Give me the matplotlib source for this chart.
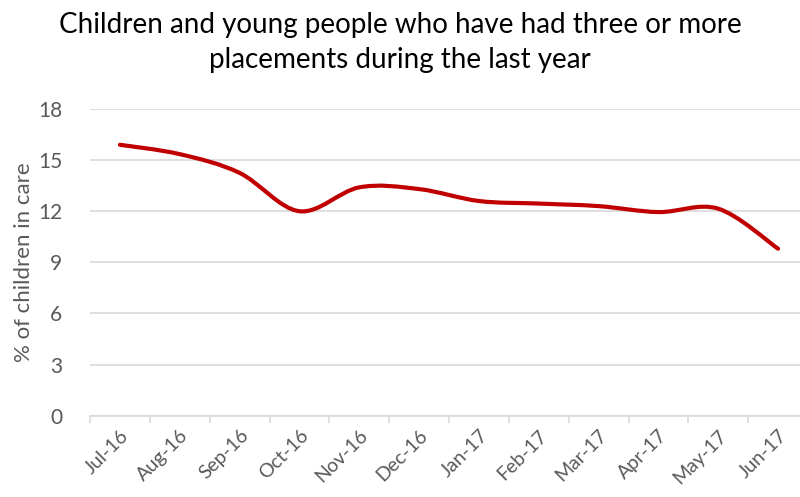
import matplotlib.pyplot as plt
from matplotlib.path import Path
from matplotlib.patches import PathPatch
import numpy as np

plt.rcParams['font.family'] = ['Lato', 'DejaVu Sans']

months = ['Jul-16', 'Aug-16', 'Sep-16', 'Oct-16', 'Nov-16', 'Dec-16',
          'Jan-17', 'Feb-17', 'Mar-17', 'Apr-17', 'May-17', 'Jun-17']
pct = [15.9, 15.35, 14.25, 12.0, 13.4, 13.3, 12.6, 12.45, 12.3, 11.95, 12.15, 9.8]

fig = plt.figure(figsize=(8, 4.97), dpi=100)
ax = fig.add_axes([90 / 800, 0.1636, 718 / 800, 0.6171])

# smoothed line like Excel's (bezier through the points)
x = np.arange(len(months), dtype=float)
y = np.array(pct)
pts = np.column_stack([x, y])
verts = [pts[0]]
codes = [Path.MOVETO]
n = len(pts)
for i in range(n - 1):
    p0 = pts[i - 1] if i > 0 else pts[i]
    p1 = pts[i]
    p2 = pts[i + 1]
    p3 = pts[i + 2] if i + 2 < n else pts[i + 1]
    c1 = p1 + (p2 - p0) / 6
    c2 = p2 - (p3 - p1) / 6
    verts += [c1, c2, p2]
    codes += [Path.CURVE4] * 3
patch = PathPatch(Path(verts, codes), facecolor='none', edgecolor='#C00000',
                  lw=3, capstyle='round', joinstyle='round', zorder=3)
ax.add_patch(patch)

ax.set_xlim(-0.5, len(months) - 0.5)
ax.set_ylim(0, 18)
ax.set_yticks(np.arange(0, 19, 3))
ax.yaxis.grid(True, color='#D9D9D9', lw=1.2)
ax.set_axisbelow(True)

ax.set_xticks(x)
ax.set_xticklabels(months, rotation=45, ha='right', rotation_mode='anchor',
                   fontsize=14, color='#595959')
ax.set_xticks(np.arange(-0.5, len(months), 1), minor=True)
ax.tick_params(axis='x', which='major', length=0, pad=8)
ax.tick_params(axis='x', which='minor', length=5, color='#D9D9D9', width=1.2)
ax.tick_params(axis='y', length=0, labelsize=15, labelcolor='#595959', pad=20)

for s in ['top', 'right', 'left']:
    ax.spines[s].set_visible(False)
ax.spines['bottom'].set_color('#D9D9D9')
ax.spines['bottom'].set_linewidth(1.2)

ax.set_ylabel('% of children in care', fontsize=16, color='#595959', labelpad=3)
fig.suptitle('Children and young people who have had three or more\nplacements during the last year',
             fontsize=20, color='black', y=0.975, linespacing=1.4)

fig.savefig('out.png', dpi=100)
